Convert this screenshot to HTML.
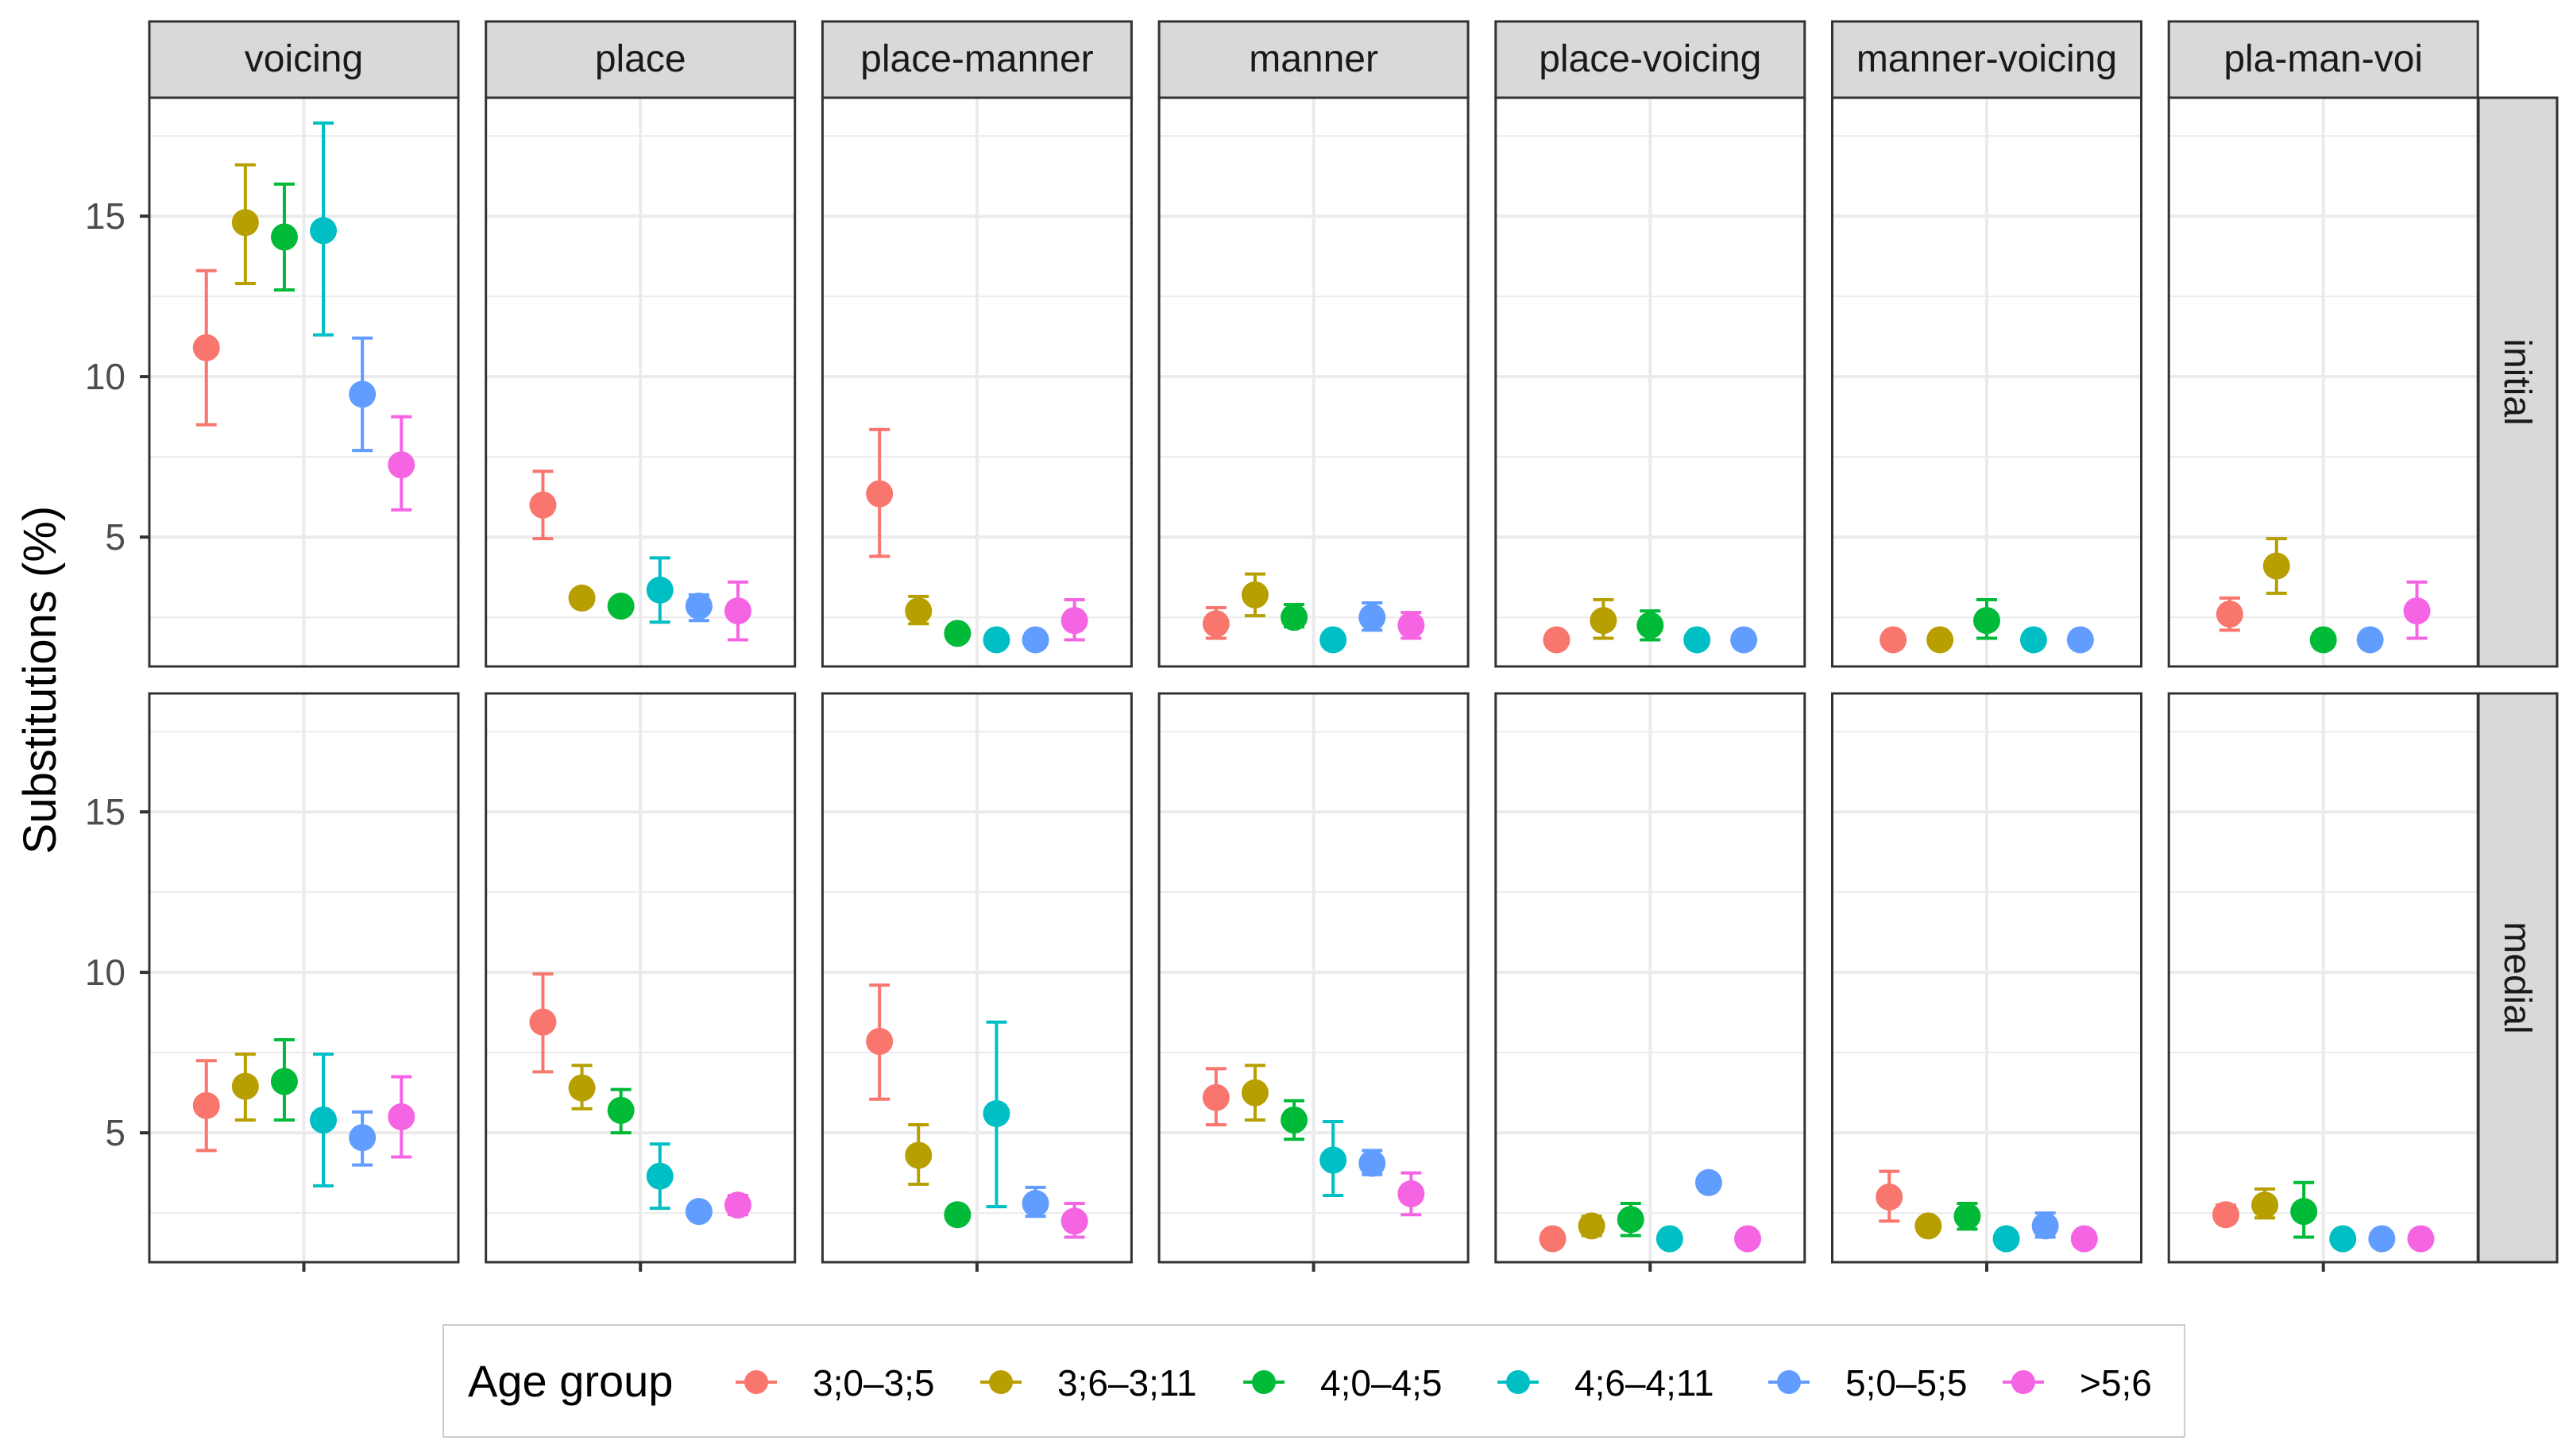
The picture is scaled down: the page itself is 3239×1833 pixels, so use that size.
<!DOCTYPE html>
<html><head><meta charset="utf-8"><style>
html,body{margin:0;padding:0;background:#fff;}
svg{display:block;font-family:"Liberation Sans",Arial,sans-serif;}
</style></head><body>
<svg id="chart" width="3239" height="1833" viewBox="0 0 3239 1833" xmlns="http://www.w3.org/2000/svg"></svg>
<script>
const facets = ["voicing","place","place-manner","manner","place-voicing","manner-voicing","pla-man-voi"];
const rows = ["initial","medial"];
const groups = ["3;0\u20133;5","3;6\u20133;11","4;0\u20134;5","4;6\u20134;11","5;0\u20135;5",">5;6"];
const colors = ["#F8766D","#B79F00","#00BA38","#00BFC4","#619CFF","#F564E3"];
const yTicks = [5,10,15];
// [mean, lo, hi] per group; null = missing
const initialData = [
 [[10.9,8.5,13.3],[14.8,12.9,16.6],[14.35,12.7,16.0],[14.55,11.3,17.9],[9.45,7.7,11.2],[7.25,5.85,8.75]],
 [[6.0,4.95,7.05],[3.1,2.9,3.3],[2.85,2.75,3.0],[3.35,2.35,4.35],[2.85,2.4,3.2],[2.7,1.8,3.6]],
 [[6.35,4.4,8.35],[2.7,2.3,3.15],[2.0,1.95,2.05],[1.8,1.8,1.8],[1.8,1.8,1.8],[2.4,1.8,3.05]],
 [[2.3,1.85,2.8],[3.2,2.55,3.85],[2.5,2.2,2.9],[1.8,1.8,1.8],[2.5,2.1,2.95],[2.25,1.85,2.65]],
 [[1.8,1.8,1.8],[2.4,1.85,3.05],[2.25,1.8,2.7],[1.8,1.8,1.8],[1.8,1.8,1.8],null],
 [[1.8,1.8,1.8],[1.8,1.8,1.8],[2.4,1.85,3.05],[1.8,1.8,1.8],[1.8,1.8,1.8],null],
 [[2.6,2.1,3.1],[4.1,3.25,4.95],[1.8,1.8,1.8],null,[1.8,1.8,1.8],[2.7,1.85,3.6]]
];
const medialData = [
 [[5.85,4.45,7.25],[6.45,5.4,7.45],[6.6,5.4,7.9],[5.4,3.35,7.45],[4.85,4.0,5.65],[5.5,4.25,6.75]],
 [[8.45,6.9,9.95],[6.4,5.75,7.1],[5.7,5.0,6.35],[3.65,2.65,4.65],[2.55,2.4,2.75],[2.75,2.45,3.05]],
 [[7.85,6.05,9.6],[4.3,3.4,5.25],[2.45,2.3,2.6],[5.6,2.7,8.45],[2.8,2.4,3.3],[2.25,1.75,2.8]],
 [[6.1,5.25,7.0],[6.25,5.4,7.1],[5.4,4.8,6.0],[4.15,3.05,5.35],[4.05,3.7,4.45],[3.1,2.45,3.75]],
 [[1.7,1.7,1.7],[2.1,1.8,2.4],[2.3,1.8,2.8],[1.7,1.7,1.7],[3.45,3.45,3.45],[1.7,1.7,1.7]],
 [[3.0,2.25,3.8],[2.1,1.95,2.3],[2.4,2.0,2.8],[1.7,1.7,1.7],[2.1,1.75,2.5],[1.7,1.7,1.7]],
 [[2.45,2.2,2.75],[2.75,2.35,3.25],[2.55,1.75,3.45],[1.7,1.7,1.7],[1.7,1.7,1.7],[1.7,1.7,1.7]]
];
const rowData = [initialData, medialData];

const NS="http://www.w3.org/2000/svg";
const svg=document.getElementById('chart');
function mk(tag,attrs,parent){const e=document.createElementNS(NS,tag);for(const k in attrs)e.setAttribute(k,attrs[k]);(parent||svg).appendChild(e);return e;}
const P0=188, PW=389, PITCH=423.7, ROWTOP=[123,873], PH=716, YMIN=0.97, YMAX=18.69;
function yScale(r,v){return ROWTOP[r]+(YMAX-v)/(YMAX-YMIN)*PH;}
function panelX(i){return P0+i*PITCH;}
const DODGE=294.6;

facets.forEach((f,i)=>{
 const x=panelX(i);
 const g=mk('g',{});
 
 
 mk('rect',{x:x,y:27,width:PW,height:96,fill:'#D9D9D9',stroke:'#333',"stroke-width":3},g);
 const t=mk('text',{x:x+PW/2,y:90,"text-anchor":"middle","font-size":48,fill:'#1A1A1A'},g);t.textContent=f;
});
rows.forEach((r,ri)=>{
 const g=mk('g',{});
 
 
 mk('rect',{x:3120,y:ROWTOP[ri],width:99,height:PH,fill:'#D9D9D9',stroke:'#333',"stroke-width":3},g);
 const cy=ROWTOP[ri]+PH/2;
 const t=mk('text',{x:3153,y:cy,"text-anchor":"middle","font-size":48,fill:'#1A1A1A',transform:`rotate(90 3153 ${cy})`},g);t.textContent=r;
});
rows.forEach((r,ri)=>{
 facets.forEach((f,fi)=>{
  const x=panelX(fi), top=ROWTOP[ri], cx=x+PW/2;
  const g=mk('g',{});
  
  
  mk('rect',{x:x,y:top,width:PW,height:PH,fill:'#fff'},g);
  [2.5,7.5,12.5,17.5].forEach(v=>mk('line',{x1:x,x2:x+PW,y1:yScale(ri,v),y2:yScale(ri,v),stroke:'#EBEBEB',"stroke-width":2},g));
  yTicks.forEach(v=>mk('line',{x1:x,x2:x+PW,y1:yScale(ri,v),y2:yScale(ri,v),stroke:'#EBEBEB',"stroke-width":4},g));
  mk('line',{x1:cx,x2:cx,y1:top,y2:top+PH,stroke:'#EBEBEB',"stroke-width":4},g);
  const data=rowData[ri][fi];
  const present=[];data.forEach((d,k)=>{if(d)present.push(k);});
  const n=present.length, sp=DODGE/n;
  present.forEach((k,j)=>{
   const d=data[k];
   const px=cx+(j-(n-1)/2)*sp;
   const eg=mk('g',{},g);
   
   
   if(d[2]>d[1]){
    const y1=yScale(ri,d[1]),y2=yScale(ri,d[2]);
    mk('line',{x1:px,x2:px,y1:y1,y2:y2,stroke:colors[k],"stroke-width":4},eg);
    mk('line',{x1:px-13,x2:px+13,y1:y1,y2:y1,stroke:colors[k],"stroke-width":4},eg);
    mk('line',{x1:px-13,x2:px+13,y1:y2,y2:y2,stroke:colors[k],"stroke-width":4},eg);
   }
   mk('circle',{cx:px,cy:yScale(ri,d[0]),r:17,fill:colors[k]},eg);
  });
  mk('rect',{x:x,y:top,width:PW,height:PH,fill:'none',stroke:'#333',"stroke-width":3},g);
  if(ri===1) mk('line',{x1:cx,x2:cx,y1:top+PH,y2:top+PH+12,stroke:'#333',"stroke-width":4},g);
 });
 const ag=mk('g',{});
 
 
 yTicks.forEach(v=>{
  const y=yScale(ri,v);
  mk('line',{x1:176,x2:188,y1:y,y2:y,stroke:'#333',"stroke-width":4},ag);
  const t=mk('text',{x:158,y:y+16,"text-anchor":"end","font-size":46,fill:'#4D4D4D'},ag);t.textContent=v;
 });
});
const yt=mk('text',{x:70,y:856,"text-anchor":"middle","font-size":58,fill:'#000',transform:'rotate(-90 70 856)'});


yt.textContent='Substitutions (%)';
const lg=mk('g',{});


mk('rect',{x:558,y:1668,width:2192,height:141,fill:'#fff',stroke:'#ccc',"stroke-width":2},lg);
const lt=mk('text',{x:589,y:1758,"font-size":56,fill:'#000'},lg);lt.textContent='Age group';
const keyX=[952,1260,1591,1911,2252,2547];
groups.forEach((gname,k)=>{
 const eg=mk('g',{},lg);
 
 
 const kx=keyX[k], ky=1740;
 mk('line',{x1:kx-26,x2:kx+26,y1:ky,y2:ky,stroke:colors[k],"stroke-width":4},eg);
 mk('circle',{cx:kx,cy:ky,r:15,fill:colors[k]},eg);
 const t=mk('text',{x:kx+71,y:ky+17,"font-size":46,fill:'#000'},eg);t.textContent=gname;
});
</script>
</body></html>
